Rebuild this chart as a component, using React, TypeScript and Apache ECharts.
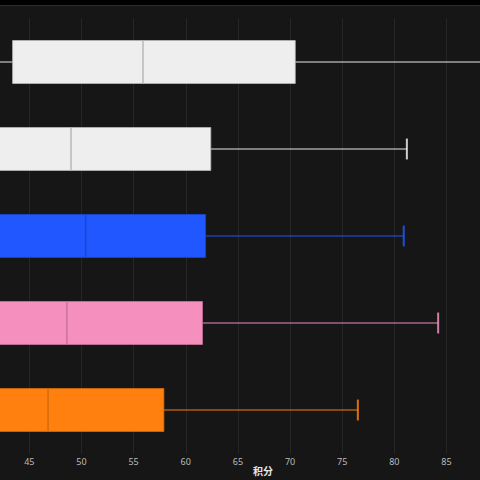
import { useEffect, useRef } from "react";
import * as echarts from "echarts";

// 分组（坐标轴标签在画面外）
const groups = ["A", "B", "C", "D", "E"];
const minValues = [36, 30, 31, 29, 28];
const q1Values = [43.4, 39.5, 39.0, 39.8, 38.6];
const medianValues = [55.9, 49.0, 50.4, 48.6, 46.8];
const q3Values = [70.5, 62.4, 61.9, 61.6, 57.9];
const maxValues = [96, 81.2, 80.9, 84.2, 76.5];

const xTicks = { min: 40, max: 90, interval: 5 };

const fills = ["#eeeeee", "#2157ff", "#f48fbe", "#ff800e"];
const fillFor = (i: number) => (i < 2 ? fills[0] : fills[i - 1]);
const darkFor = (i: number) =>
    i < 2 ? "#b8b8b8" : ["#1b46d4", "#c9739c", "#d66c0b"][i - 2];

function App() {
    const ref = useRef<HTMLDivElement>(null);

    useEffect(() => {
        document.body.style.margin = "0";
        if (!ref.current) return;
        const chart = echarts.init(ref.current, undefined, { renderer: "svg" });

        const data = groups.map((_, i) => [
            i,
            minValues[i],
            q1Values[i],
            medianValues[i],
            q3Values[i],
            maxValues[i],
        ]);

        chart.setOption({
            animation: false,
            backgroundColor: "#161616",
            grid: {
                left: -22.85,
                right: -18.65,
                top: 18.5,
                bottom: 26.5,
                outerBoundsMode: "none",
                containLabel: false,
            },
            xAxis: {
                type: "value",
                min: xTicks.min,
                max: xTicks.max,
                interval: xTicks.interval,
                name: "积分",
                nameLocation: "middle",
                nameGap: 12,
                nameMoveOverlap: false,
                nameTextStyle: {
                    color: "#e8e8e8",
                    fontSize: 10,
                    fontWeight: "bold",
                    fontFamily: "Noto Sans CJK SC",
                    padding: [0, 0, 0, 50],
                },
                axisLine: { show: false },
                axisTick: { show: false },
                axisLabel: {
                    color: "#bbbbbb",
                    fontSize: 9,
                    margin: 3,
                    fontFamily: "Noto Sans",
                    showMinLabel: false,
                    showMaxLabel: false,
                },
                splitLine: { lineStyle: { color: "#262626", width: 1 } },
            },
            yAxis: {
                type: "category",
                data: groups,
                inverse: true,
                axisLine: { show: false },
                axisTick: { show: false },
                axisLabel: { show: false },
                splitLine: { show: false },
            },
            graphic: [
                { type: "rect", shape: { x: 0, y: 0, width: 480, height: 5 }, style: { fill: "#000" } },
                { type: "line", shape: { x1: 0, y1: 5.5, x2: 480, y2: 5.5 }, style: { stroke: "#2e2e2e", lineWidth: 1 } },
            ],
            series: [
                {
                    type: "custom",
                    data,
                    encode: { x: [1, 2, 3, 4, 5], y: 0 },
                    renderItem: (params: any, api: any) => {
                        const cat = api.value(0);
                        const lo = api.coord([api.value(1), cat]);
                        const q1 = api.coord([api.value(2), cat]);
                        const med = api.coord([api.value(3), cat]);
                        const q3 = api.coord([api.value(4), cat]);
                        const hi = api.coord([api.value(5), cat]);
                        const band = api.size([0, 1])[1];
                        const half = band * 0.247;
                        const cap = band * 0.12;
                        const cy = q1[1];
                        const fill = fillFor(params.dataIndex);
                        const dark = darkFor(params.dataIndex);
                        return {
                            type: "group",
                            children: [
                                {
                                    type: "line",
                                    shape: { x1: lo[0], y1: cy, x2: q1[0], y2: cy },
                                    style: { stroke: fill, lineWidth: 1.5, opacity: 0.65 },
                                },
                                {
                                    type: "line",
                                    shape: { x1: q3[0], y1: cy, x2: hi[0], y2: cy },
                                    style: { stroke: fill, lineWidth: 1.5, opacity: 0.65 },
                                },
                                {
                                    type: "line",
                                    shape: { x1: lo[0], y1: cy - cap, x2: lo[0], y2: cy + cap },
                                    style: { stroke: fill, lineWidth: 2, opacity: 0.85 },
                                },
                                {
                                    type: "line",
                                    shape: { x1: hi[0], y1: cy - cap, x2: hi[0], y2: cy + cap },
                                    style: { stroke: fill, lineWidth: 2, opacity: 0.85 },
                                },
                                {
                                    type: "rect",
                                    shape: { x: q1[0], y: cy - half, width: q3[0] - q1[0], height: half * 2 },
                                    style: { fill, stroke: dark, lineWidth: 0.8 },
                                },
                                {
                                    type: "line",
                                    shape: { x1: med[0], y1: cy - half, x2: med[0], y2: cy + half },
                                    style: { stroke: dark, lineWidth: 1.5 },
                                },
                            ],
                        };
                    },
                },
            ],
        });

        return () => {
            chart.dispose();
        };
    }, []);

    return <div ref={ref} style={{ width: "480px", height: "480px" }} />;
}

export default App;
